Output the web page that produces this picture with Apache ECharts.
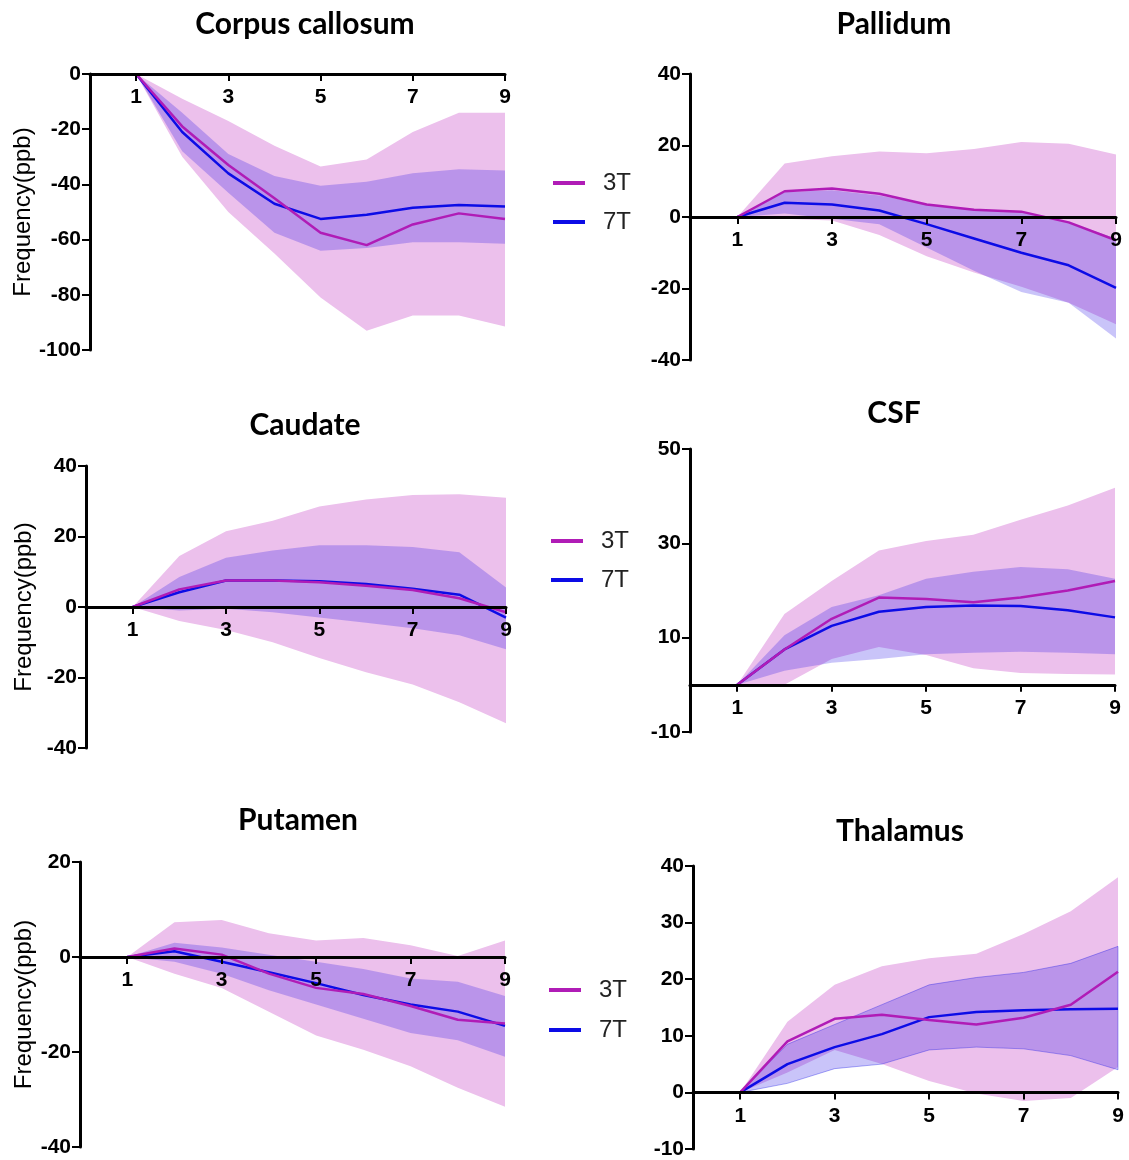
<!DOCTYPE html>
<html>
<head>
<meta charset="utf-8">
<script src="https://cdn.jsdelivr.net/npm/echarts@6/dist/echarts.min.js"></script>
<style>
html, body { margin: 0; padding: 0; background: #fff; }
#main { width: 1129px; height: 1160px; }
</style>
</head>
<body>
<div id="main"></div>
<script>
var xVals = [1, 2, 3, 4, 5, 6, 7, 8, 9];
var xTicks = [1, 3, 5, 7, 9];

// Corpus callosum
var cc3T = [0, -19, -33, -45, -57.5, -62, -54.5, -50.5, -52.5];
var cc7T = [0, -21, -36, -47, -52.5, -51, -48.5, -47.5, -48];
var cc3TUp = [0, -9, -17, -26, -33.5, -31, -21, -14, -14];
var cc3TLow = [0, -30, -50, -65, -81, -93, -87.5, -87.5, -91.5];
var cc7TUp = [0, -14, -29, -37, -40.5, -39, -36, -34.5, -35];
var cc7TLow = [0, -28, -43, -57.5, -64, -63, -61, -61, -61.5];
var ccTicks = [-100, -80, -60, -40, -20, 0];

// Pallidum
var pa3T = [0, 7.2, 8, 6.5, 3.5, 2, 1.5, -1.5, -6.5];
var pa7T = [0, 4, 3.5, 1.8, -2, -6, -10, -13.5, -19.8];
var pa3TUp = [0, 15, 17, 18.3, 17.8, 19, 21, 20.5, 17.5];
var pa3TLow = [0, -0.5, -1, -5, -11, -15.5, -19.5, -24, -30];
var pa7TUp = [0, 7, 7.5, 6, 3.5, 2, 1.5, -1.5, -6];
var pa7TLow = [0, 1, -0.5, -2, -8.5, -15, -21, -24, -34];
var paTicks = [-40, -20, 0, 20, 40];

// Caudate
var ca3T = [0, 5, 7.5, 7.5, 7, 6, 4.8, 2.5, -1.5];
var ca7T = [0, 4.2, 7.5, 7.5, 7.3, 6.5, 5.2, 3.5, -3];
var ca3TUp = [0, 14.5, 21.5, 24.5, 28.5, 30.5, 31.8, 32, 31];
var ca3TLow = [0, -4, -6.5, -10, -14.5, -18.5, -22, -27, -33];
var ca7TUp = [0, 8.5, 14, 16, 17.5, 17.5, 17, 15.5, 5.5];
var ca7TLow = [0, -1, -0.5, -1.5, -3, -4.5, -6, -8, -12];
var caTicks = [-40, -20, 0, 20, 40];

// CSF
var cs3T = [0, 7.5, 14, 18.5, 18.2, 17.5, 18.5, 20, 22];
var cs7T = [0, 7.5, 12.5, 15.5, 16.5, 16.8, 16.7, 15.8, 14.3];
var cs3TUp = [0, 15, 22, 28.5, 30.5, 31.8, 35, 38, 41.8];
var cs3TLow = [0, 0, 5.5, 8, 6.3, 3.5, 2.5, 2.3, 2.2];
var cs7TUp = [0, 10.5, 16.5, 19, 22.5, 24, 25, 24.5, 22.5];
var cs7TLow = [0, 3, 4.7, 5.5, 6.5, 6.8, 7, 6.8, 6.5];
var csTicks = [-10, 10, 30, 50];

// Putamen
var pu3T = [0, 1.8, 0.5, -3.5, -6.5, -7.8, -10.3, -13.2, -14];
var pu7T = [0, 1.2, -1, -3.2, -5.5, -8, -10, -11.5, -14.5];
var pu3TUp = [0, 7.3, 7.8, 5, 3.5, 4, 2.5, 0.2, 3.5];
var pu3TLow = [0, -3.5, -6.5, -11.5, -16.5, -19.5, -23, -27.5, -31.5];
var pu7TUp = [0, 3, 2, 0.5, -1, -2.5, -4.5, -5.2, -8.2];
var pu7TLow = [0, -1, -3.5, -7, -10, -13, -16, -17.5, -21];
var puTicks = [-40, -20, 0, 20];

// Thalamus
var th3T = [0, 9, 13, 13.7, 12.8, 12, 13.2, 15.5, 21.3];
var th7T = [0, 5, 8, 10.3, 13.3, 14.2, 14.5, 14.7, 14.8];
var th3TUp = [0, 12.5, 19, 22.3, 23.7, 24.5, 28, 32, 38];
var th3TLow = [0, 3.5, 7.5, 5, 2, -0.2, -1.5, -1, 4.5];
var th7TUp = [0, 8.5, 12, 15.5, 19, 20.3, 21.2, 22.8, 25.8];
var th7TLow = [0, 1.6, 4.2, 5, 7.5, 8, 7.7, 6.5, 4];
var thTicks = [-10, 0, 10, 20, 30, 40];

var color3T = '#b01cb6';
var color7T = '#0c0ce6';
var band3T = '#ecc0ec';
var band7T = 'rgba(30,10,230,0.24)';
var labelFont = 'Liberation Sans, Arial, sans-serif';

var panels = [
  { title: 'Corpus callosum', d3: cc3T, d7: cc7T, u3: cc3TUp, l3: cc3TLow, u7: cc7TUp, l7: cc7TLow, ticks: ccTicks,
    grid: { left: 90, top: 74, width: 415, height: 276 }, tx: 305, ty: 9, yName: true },
  { title: 'Pallidum', d3: pa3T, d7: pa7T, u3: pa3TUp, l3: pa3TLow, u7: pa7TUp, l7: pa7TLow, ticks: paTicks,
    grid: { left: 690, top: 74, width: 426, height: 286 }, tx: 894, ty: 9, yName: false },
  { title: 'Caudate', d3: ca3T, d7: ca7T, u3: ca3TUp, l3: ca3TLow, u7: ca7TUp, l7: ca7TLow, ticks: caTicks,
    grid: { left: 86, top: 466, width: 420, height: 282 }, tx: 305, ty: 410, yName: true },
  { title: 'CSF', d3: cs3T, d7: cs7T, u3: cs3TUp, l3: cs3TLow, u7: cs7TUp, l7: cs7TLow, ticks: csTicks,
    grid: { left: 690, top: 449, width: 425, height: 283 }, tx: 894, ty: 398, yName: false },
  { title: 'Putamen', d3: pu3T, d7: pu7T, u3: pu3TUp, l3: pu3TLow, u7: pu7TUp, l7: pu7TLow, ticks: puTicks,
    grid: { left: 80, top: 862, width: 425, height: 285 }, tx: 298, ty: 805, yName: true },
  { title: 'Thalamus', d3: th3T, d7: th7T, u3: th3TUp, l3: th3TLow, u7: th7TUp, l7: th7TLow, ticks: thTicks,
    grid: { left: 693, top: 866, width: 425, height: 283 }, tx: 900, ty: 816, yName: false, edge7: true }
];

function pairs(vals) {
  var out = [];
  for (var i = 0; i < xVals.length; i++) {
    out.push([xVals[i], vals[i]]);
  }
  return out;
}

// confidence band as one polygon, points placed with api.coord
function bandSeries(k, up, low, fill, stroke, z) {
  var data = [];
  for (var i = 0; i < xVals.length; i++) {
    data.push([xVals[i], low[i], up[i]]);
  }
  return {
    type: 'custom',
    xAxisIndex: k,
    yAxisIndex: k,
    z: z,
    silent: true,
    encode: { x: 0, y: [1, 2] },
    data: data,
    renderItem: function (params, api) {
      if (params.dataIndex !== 0) return;
      var pts = [];
      for (var a = 0; a < data.length; a++) pts.push(api.coord([data[a][0], data[a][2]]));
      for (var b = data.length - 1; b >= 0; b--) pts.push(api.coord([data[b][0], data[b][1]]));
      return {
        type: 'polygon',
        shape: { points: pts },
        style: { fill: fill, stroke: stroke || 'none', lineWidth: stroke ? 1 : 0 }
      };
    }
  };
}

var titles = [], grids = [], xAxes = [], yAxes = [], series = [];

panels.forEach(function (p, k) {
  var yMin = p.ticks[0];
  var yMax = p.ticks[p.ticks.length - 1];
  titles.push({
    text: p.title,
    left: p.tx,
    top: p.ty,
    textAlign: 'center',
    padding: 0,
    textStyle: { fontFamily: 'Lato, sans-serif', fontWeight: 'bold', fontSize: 30, color: '#000' }
  });
  grids.push(p.grid);
  xAxes.push({
    type: 'value',
    gridIndex: k,
    position: 'bottom',
    // put the x axis on the y = 0 line
    offset: -p.grid.height * (0 - yMin) / (yMax - yMin),
    min: 0,
    max: 9,
    z: 5,
    axisLine: { onZero: false, lineStyle: { color: '#000', width: 3 } },
    axisTick: { customValues: xTicks, length: 7, lineStyle: { color: '#000', width: 2 } },
    axisLabel: { customValues: xTicks, margin: 13, color: '#000', fontFamily: labelFont, fontWeight: 'bold', fontSize: 21 },
    splitLine: { show: false }
  });
  yAxes.push({
    type: 'value',
    gridIndex: k,
    min: yMin,
    max: yMax,
    z: 5,
    name: p.yName ? 'Frequency(ppb)' : '',
    nameLocation: 'middle',
    nameGap: p.grid.left - 36,
    nameTextStyle: { fontFamily: labelFont, fontSize: 24, color: '#000' },
    axisLine: { show: true, onZero: false, lineStyle: { color: '#000', width: 3 } },
    axisTick: { customValues: p.ticks, length: 8, lineStyle: { color: '#000', width: 2 } },
    axisLabel: { customValues: p.ticks, margin: 9, color: '#000', fontFamily: labelFont, fontWeight: 'bold', fontSize: 21 },
    splitLine: { show: false }
  });

  series.push(bandSeries(k, p.u3, p.l3, band3T, null, 1));
  series.push(bandSeries(k, p.u7, p.l7, band7T, p.edge7 ? 'rgba(20,20,230,0.35)' : null, 2));
  series.push({
    name: '7T', type: 'line', xAxisIndex: k, yAxisIndex: k, symbol: 'none',
    lineStyle: { color: color7T, width: 2.5 }, itemStyle: { color: color7T }, data: pairs(p.d7), z: 3
  });
  series.push({
    name: '3T', type: 'line', xAxisIndex: k, yAxisIndex: k, symbol: 'none',
    lineStyle: { color: color3T, width: 2.5 }, itemStyle: { color: color3T }, data: pairs(p.d3), z: 4
  });
});

// legends between the two columns, one per item
var legendSpots = [
  { name: '3T', left: 553, top: 171 }, { name: '7T', left: 553, top: 210 },
  { name: '3T', left: 551, top: 529 }, { name: '7T', left: 551, top: 568 },
  { name: '3T', left: 549, top: 978 }, { name: '7T', left: 549, top: 1018 }
];
var legends = legendSpots.map(function (s) {
  return {
    data: [s.name],
    left: s.left,
    top: s.top,
    padding: 0,
    icon: 'rect',
    itemWidth: 32,
    itemHeight: 4,
    selectedMode: false,
    textStyle: { fontFamily: labelFont, fontSize: 24, color: '#222', padding: [0, 0, 0, 13] }
  };
});

var chart = echarts.init(document.getElementById('main'));
chart.setOption({
  animation: false,
  backgroundColor: '#fff',
  title: titles,
  legend: legends,
  grid: grids,
  xAxis: xAxes,
  yAxis: yAxes,
  series: series
});
</script>
</body>
</html>
